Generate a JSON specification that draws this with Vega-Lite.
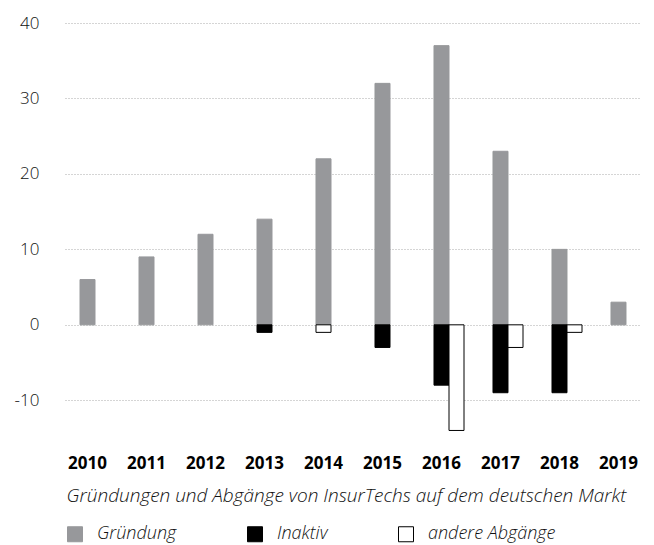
{
  "$schema": "https://vega.github.io/schema/vega-lite/v6.json",
  "width": 576,
  "height": 415,
  "autosize": {"type": "none"},
  "padding": {"left": 65, "top": 23, "right": 13, "bottom": 107},
  "background": "white",
  "config": {
    "view": {"stroke": null},
    "font": "Open Sans"
  },
  "data": {
    "values": [
      {"year": "2010", "type": "Gründung", "value": 6},
      {"year": "2011", "type": "Gründung", "value": 9},
      {"year": "2012", "type": "Gründung", "value": 12},
      {"year": "2013", "type": "Gründung", "value": 14},
      {"year": "2014", "type": "Gründung", "value": 22},
      {"year": "2015", "type": "Gründung", "value": 32},
      {"year": "2016", "type": "Gründung", "value": 37},
      {"year": "2017", "type": "Gründung", "value": 23},
      {"year": "2018", "type": "Gründung", "value": 10},
      {"year": "2019", "type": "Gründung", "value": 3},
      {"year": "2013", "type": "Inaktiv", "value": -1},
      {"year": "2015", "type": "Inaktiv", "value": -3},
      {"year": "2016", "type": "Inaktiv", "value": -8},
      {"year": "2017", "type": "Inaktiv", "value": -9},
      {"year": "2018", "type": "Inaktiv", "value": -9},
      {"year": "2014", "type": "andere Abgänge", "value": -1},
      {"year": "2016", "type": "andere Abgänge", "value": -14},
      {"year": "2017", "type": "andere Abgänge", "value": -3},
      {"year": "2018", "type": "andere Abgänge", "value": -1}
    ]
  },
  "transform": [
    {"calculate": "datum.type === 'Inaktiv' ? 1 : 0", "as": "isInaktiv"},
    {"joinaggregate": [{"op": "sum", "field": "isInaktiv", "as": "nInaktiv"}], "groupby": ["year"]},
    {"calculate": "datum.type === 'andere Abgänge' && datum.nInaktiv > 0 ? 'R' : 'C'", "as": "slot"}
  ],
  "mark": {"type": "bar", "strokeWidth": 1},
  "encoding": {
    "x": {
      "field": "year",
      "type": "ordinal",
      "scale": {"paddingInner": 0.237, "paddingOuter": 0},
      "axis": {
        "title": "Gründungen und Abgänge von InsurTechs auf dem deutschen Markt",
        "labelAngle": 0,
        "labelFont": "Open Sans",
        "labelFontWeight": "bold",
        "labelFontSize": 17,
        "labelColor": "#000",
        "labelPadding": 17,
        "ticks": false,
        "domain": false,
        "titleFont": "Open Sans",
        "titleFontStyle": "italic",
        "titleFontWeight": 300,
        "titleFontSize": 19,
        "titleColor": "#111",
        "titleAnchor": "start",
        "titleAlign": "left",
        "titleX": 1,
        "titleY": 57,
        "titleBaseline": "middle"
      }
    },
    "xOffset": {
      "field": "slot",
      "type": "nominal",
      "scale": {"domain": ["L", "C", "R"], "paddingInner": 0, "paddingOuter": 0}
    },
    "y": {
      "field": "value",
      "type": "quantitative",
      "stack": null,
      "scale": {"domain": [-15, 40], "nice": false, "zero": false},
      "axis": {
        "title": null,
        "values": [-10, 0, 10, 20, 30, 40],
        "labelExpr": "replace(datum.label, '−', '-')",
        "ticks": false,
        "domain": false,
        "labelFont": "Open Sans",
        "labelFontWeight": 300,
        "labelFontSize": 17,
        "labelColor": "#111",
        "labelPadding": 26,
        "gridColor": "#aaa",
        "gridDash": [1, 2],
        "gridWidth": 1
      }
    },
    "fill": {
      "field": "type",
      "type": "nominal",
      "scale": {"domain": ["Gründung", "Inaktiv", "andere Abgänge"], "range": ["#97989b", "#000000", "#ffffff"]},
      "legend": {
        "title": null,
        "orient": "none",
        "legendX": 1,
        "legendY": 502,
        "direction": "horizontal",
        "symbolType": "square",
        "symbolSize": 225,
        "symbolStrokeWidth": 1,
        "labelFont": "Open Sans",
        "labelFontStyle": "italic",
        "labelFontWeight": 300,
        "labelFontSize": 18,
        "labelColor": "#111",
        "labelOffset": 13,
        "columnPadding": 68,
        "padding": 0
      }
    },
    "stroke": {
      "field": "type",
      "type": "nominal",
      "scale": {"domain": ["Gründung", "Inaktiv", "andere Abgänge"], "range": ["#97989b", "#000000", "#000000"]},
      "legend": {
        "title": null,
        "orient": "none",
        "legendX": 1,
        "legendY": 502,
        "direction": "horizontal",
        "symbolType": "square",
        "symbolSize": 225,
        "symbolStrokeWidth": 1,
        "labelFont": "Open Sans",
        "labelFontStyle": "italic",
        "labelFontWeight": 300,
        "labelFontSize": 18,
        "labelColor": "#111",
        "labelOffset": 13,
        "columnPadding": 68,
        "padding": 0
      }
    }
  }
}
